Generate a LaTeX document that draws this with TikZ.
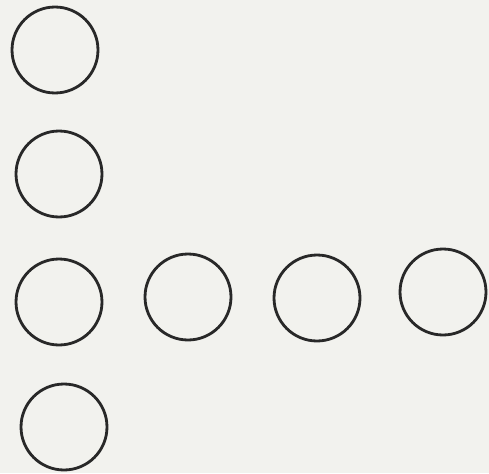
\documentclass[tikz,border=0pt]{standalone}
\usepackage{tikz}
\usetikzlibrary{positioning}
\definecolor{paper}{RGB}{242,242,238}
\definecolor{ink}{RGB}{40,40,40}

\begin{document}
\begin{tikzpicture}[
    x=0.02cm, y=-0.02cm,
    ring/.style={draw=ink, circle, line width=1.6pt, minimum size=1.72cm, inner sep=0pt}
]
\fill[paper] (0,0) rectangle (489,473);
\useasboundingbox (0,0) rectangle (489,473);
% left column
\node[ring] (top)    at (55,50)  {};
\node[ring] (upper)  at (59,174) {};
\node[ring] (corner) at (59,302) {};
\node[ring] (bottom) at (64,427) {};
% row to the right
\node[ring] (rowa) at (188,297) {};
\node[ring] (rowb) at (317,298) {};
\node[ring] (rowc) at (443,292) {};
\end{tikzpicture}
\end{document}
